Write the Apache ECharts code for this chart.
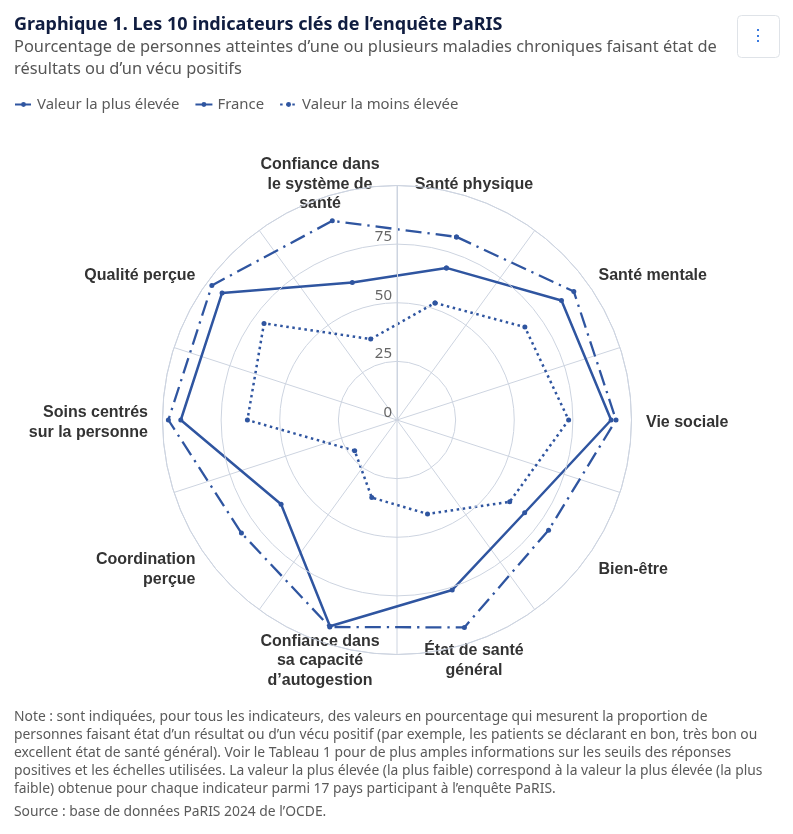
<!DOCTYPE html>
<html>
<head>
<meta charset="utf-8">
<script src="https://cdn.jsdelivr.net/npm/echarts@6/dist/echarts.min.js"></script>
<style>
  html, body { margin: 0; padding: 0; background: #fff; }
  #chart { width: 793px; height: 834px; }
</style>
</head>
<body>
<div id="chart"></div>
<script>
// ---- Data ----
const indicators = [
  'Santé physique',
  'Santé mentale',
  'Vie sociale',
  'Bien-être',
  'État de santé\ngénéral',
  'Confiance dans\nsa capacité\nd’autogestion',
  'Coordination\nperçue',
  'Soins centrés\nsur la personne',
  'Qualité perçue',
  'Confiance dans\nle système de\nsanté'
];
const seriesNames = ['Valeur la plus élevée', 'France', 'Valeur la moins élevée'];
const maxValues    = [82.1, 93.2, 93.4, 79.9, 93.0, 92.8, 82.0, 97.5, 97.6, 89.3];
const franceValues = [68.2, 86.7, 91.3, 67.3, 76.2, 92.5, 61.1, 92.2, 92.2, 61.7];
const minValues    = [52.5, 67.4, 73.2, 59.4, 42.1, 34.8, 22.3, 63.8, 70.1, 36.3];
const radiusTicks  = [0, 25, 50, 75, 100];

const titleText = 'Graphique 1. Les 10 indicateurs clés de l’enquête PaRIS';
const subtitleText = 'Pourcentage de personnes atteintes d’une ou plusieurs maladies chroniques faisant état de\nrésultats ou d’un vécu positifs';
const noteText = 'Note : sont indiquées, pour tous les indicateurs, des valeurs en pourcentage qui mesurent la proportion de\npersonnes faisant état d’un résultat ou d’un vécu positif (par exemple, les patients se déclarant en bon, très bon ou\nexcellent état de santé général). Voir le Tableau 1 pour de plus amples informations sur les seuils des réponses\npositives et les échelles utilisées. La valeur la plus élevée (la plus faible) correspond à la valeur la plus élevée (la plus\nfaible) obtenue pour chaque indicateur parmi 17 pays participant à l’enquête PaRIS.';
const sourceText = 'Source : base de données PaRIS 2024 de l’OCDE.';

// ---- Styles ----
const BLUE = '#2f55a0';
const GRID = '#cdd4e0';
const FONT = '"Noto Sans", sans-serif';
const LABEL_R = 106.2; // label radius in axis units

function closed(vals) {
  const d = vals.map((v, i) => [v, i]);
  d.push([vals[0], 0]);
  return d;
}

const chart = echarts.init(document.getElementById('chart'), null, { renderer: 'canvas' });

const lineBase = {
  type: 'line',
  coordinateSystem: 'polar',
  symbol: 'circle',
  symbolSize: 5,
  animation: false,
  itemStyle: { color: BLUE },
  emphasis: { disabled: true }
};

chart.setOption({
  animation: false,
  title: [
    { text: titleText, left: 14, top: 16, padding: 0,
      textStyle: { fontFamily: FONT, fontSize: 18, fontWeight: 'bold', color: '#101d40' } },
    { text: subtitleText, left: 14, top: 36, padding: 0,
      textStyle: { fontFamily: FONT, fontSize: 16.4, fontWeight: 'normal', color: '#555555', lineHeight: 22 } },
    { text: noteText, left: 14, top: 708, padding: 0,
      textStyle: { fontFamily: FONT, fontSize: 13.85, fontWeight: 'normal', color: '#5a5a5a', lineHeight: 18.1 } },
    { text: sourceText, left: 14, top: 803, padding: 0,
      textStyle: { fontFamily: FONT, fontSize: 13.85, fontWeight: 'normal', color: '#5a5a5a', lineHeight: 18 } }
  ],
  legend: {
    left: 14, top: 97, padding: 0,
    itemWidth: 17, itemHeight: 6, itemGap: 15,
    data: seriesNames,
    textStyle: { fontFamily: FONT, fontSize: 14.9, color: '#5a5a5a' }
  },
  graphic: [
    { type: 'rect', left: 737, top: 15, shape: { width: 42, height: 42, r: 4 },
      style: { fill: '#fff', stroke: '#dfe3e8', lineWidth: 1 } },
    { type: 'rect', left: 757, top: 29, shape: { width: 2, height: 2 }, style: { fill: '#3b7be0' } },
    { type: 'rect', left: 757, top: 35, shape: { width: 2, height: 2 }, style: { fill: '#3b7be0' } },
    { type: 'rect', left: 757, top: 40, shape: { width: 2, height: 2 }, style: { fill: '#3b7be0' } }
  ],
  polar: { center: [397, 420], radius: 234.5 },
  angleAxis: {
    type: 'category',
    data: indicators,
    startAngle: 90,
    clockwise: true,
    boundaryGap: true,
    axisLine: { show: true, lineStyle: { color: GRID, width: 1 } },
    axisTick: { show: false },
    axisLabel: { show: false },
    splitLine: { show: true, lineStyle: { color: GRID, width: 1 } }
  },
  radiusAxis: {
    type: 'value',
    min: radiusTicks[0],
    max: radiusTicks[radiusTicks.length - 1],
    interval: radiusTicks[1] - radiusTicks[0],
    axisLine: { show: true, lineStyle: { color: GRID } },
    axisTick: { show: false },
    splitLine: { show: true, lineStyle: { color: GRID, width: 1 } },
    axisLabel: {
      margin: 5,
      verticalAlign: 'bottom',
      fontFamily: FONT, fontSize: 15, color: '#666666',
      formatter: v => (v === 100 ? '' : String(v))
    },
    z: 5
  },
  series: [
    Object.assign({}, lineBase, {
      name: seriesNames[0],
      data: closed(maxValues),
      lineStyle: { color: BLUE, width: 2.3, type: [16, 6, 2.3, 6] },
      z: 3
    }),
    Object.assign({}, lineBase, {
      name: seriesNames[1],
      data: closed(franceValues),
      lineStyle: { color: BLUE, width: 2.5, type: 'solid' },
      z: 4
    }),
    Object.assign({}, lineBase, {
      name: seriesNames[2],
      data: closed(minValues),
      lineStyle: { color: BLUE, width: 2.5, type: [2.5, 3.6] },
      z: 3
    }),
    {
      type: 'custom',
      coordinateSystem: 'polar',
      silent: true,
      animation: false,
      data: indicators.map((n, i) => [LABEL_R, i]),
      renderItem: function (params, api) {
        const i = params.dataIndex;
        const p = api.coord([LABEL_R, i]);
        const c = api.coord([0, i]);
        const dx = p[0] - c[0];
        const dy = p[1] - c[1];
        const r = Math.hypot(dx, dy);
        const align = Math.abs(dx) / r < 0.4 ? 'center' : (dx > 0 ? 'left' : 'right');
        return {
          type: 'text',
          style: {
            x: p[0], y: p[1] + 2.5 + 1.5 * dy / r,
            text: indicators[i],
            align: align,
            verticalAlign: 'middle',
            fontFamily: '"Liberation Sans", Arial, sans-serif',
            fontSize: 16,
            fontWeight: 'bold',
            lineHeight: 19.5,
            fill: '#333333'
          }
        };
      }
    }
  ]
});
</script>
</body>
</html>
